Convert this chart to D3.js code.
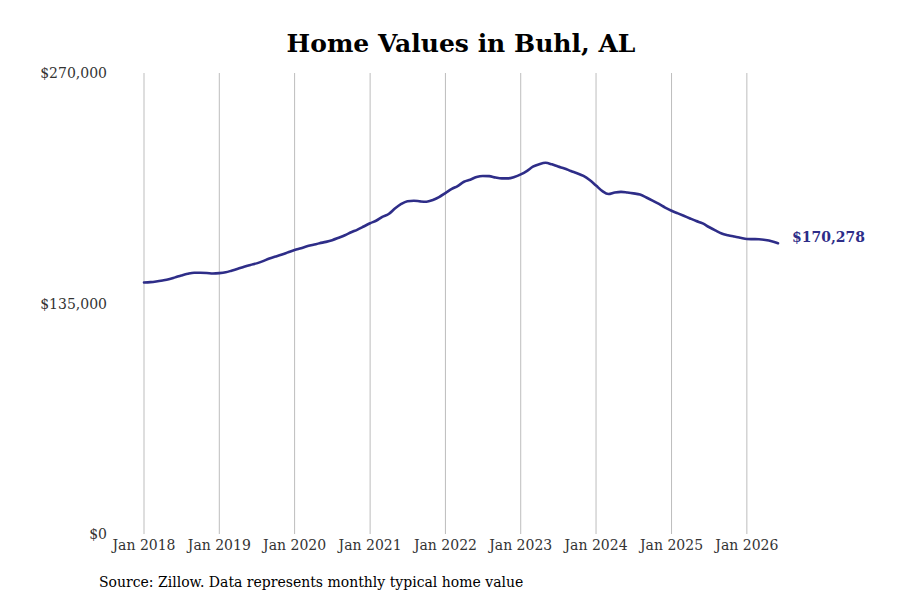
<!DOCTYPE html>
<html>
<head>
<meta charset="utf-8">
<script src="https://cdn.jsdelivr.net/npm/d3@7"></script>
<style>
  body { margin: 0; background: #fff; }
  svg { font-family: "DejaVu Serif", serif; }
</style>
</head>
<body>
<svg id="chart" width="900" height="600"></svg>
<script>
// monthly typical home value, starting Jan 2018
const startMonth = new Date(2018, 0, 1);
const values2018 = [147300, 147500, 147900, 148500, 149200, 150300, 151400, 152400, 153000, 153000, 152900, 152600];
const values2019 = [152800, 153300, 154200, 155300, 156500, 157600, 158500, 159800, 161400, 162500, 163700, 165000];
const values2020 = [166300, 167400, 168500, 169400, 170300, 171100, 172100, 173500, 175000, 176700, 178300, 180100];
const values2021 = [182000, 183600, 185700, 187400, 190600, 193300, 194900, 195200, 194800, 194600, 195600, 197300];
const values2022 = [199700, 202100, 203800, 206300, 207500, 209100, 209700, 209600, 208800, 208300, 208300, 209100];
const values2023 = [210600, 212700, 215100, 216600, 217400, 216500, 215200, 214100, 212600, 211300, 209700, 207300];
const values2024 = [204100, 200800, 199100, 200000, 200400, 200000, 199500, 198800, 197100, 195300, 193300, 191200];
const values2025 = [189300, 187800, 186400, 184800, 183300, 181900, 179800, 177800, 176000, 175000, 174200, 173500];
const values2026 = [172800, 172700, 172600, 172200, 171500, 170278];

const yTicks = [0, 135000, 270000];
const xTickYears = [2018, 2019, 2020, 2021, 2022, 2023, 2024, 2025, 2026];

const values = [].concat(values2018, values2019, values2020, values2021, values2022,
                         values2023, values2024, values2025, values2026);
const data = values.map((v, i) => ({
  date: new Date(startMonth.getFullYear(), startMonth.getMonth() + i, 1),
  value: v
}));

const svg = d3.select('#chart');
const margin = {top: 73, right: 122, bottom: 66, left: 144};
const width = 900, height = 600;

const x = d3.scaleTime()
  .domain(d3.extent(data, d => d.date))
  .range([margin.left, width - margin.right]);
const y = d3.scaleLinear()
  .domain([0, 270000])
  .range([height - margin.bottom, margin.top]);

// title
svg.append('text')
  .attr('x', 461)
  .attr('y', 52)
  .attr('text-anchor', 'middle')
  .style('font-size', '25px')
  .style('font-weight', 'bold')
  .style('fill', '#000')
  .text('Home Values in Buhl, AL');

// vertical grid + x labels
const xTicks = xTickYears.map(yr => new Date(yr, 0, 1));
svg.append('g')
  .selectAll('line')
  .data(xTicks)
  .enter().append('line')
  .attr('x1', d => x(d)).attr('x2', d => x(d))
  .attr('y1', y(270000)).attr('y2', y(0))
  .style('stroke', '#bdbdbd')
  .style('stroke-width', 1);

svg.append('g')
  .selectAll('text')
  .data(xTicks)
  .enter().append('text')
  .attr('x', d => x(d))
  .attr('y', y(0) + 16)
  .attr('text-anchor', 'middle')
  .style('font-size', '14px')
  .style('fill', '#333')
  .text(d => d3.timeFormat('%b %Y')(d));

// y labels
svg.append('g')
  .selectAll('text')
  .data(yTicks)
  .enter().append('text')
  .attr('x', 107)
  .attr('y', d => y(d) + 5)
  .attr('text-anchor', 'end')
  .style('font-size', '14px')
  .style('fill', '#333')
  .text(d => d3.format('$,')(d));

// line
const line = d3.line()
  .x(d => x(d.date))
  .y(d => y(d.value))
  .curve(d3.curveMonotoneX);

svg.append('path')
  .datum(data)
  .attr('d', line)
  .style('fill', 'none')
  .style('stroke', '#2e2d88')
  .style('stroke-width', 2.6)
  .style('stroke-linecap', 'round');

// end label
const last = data[data.length - 1];
svg.append('text')
  .attr('x', x(last.date) + 14)
  .attr('y', y(last.value) - 1)
  .style('font-size', '14px')
  .style('font-weight', 'bold')
  .style('fill', '#2e2d88')
  .text(d3.format('$,')(last.value));

// source
svg.append('text')
  .attr('x', 99)
  .attr('y', 587)
  .style('font-size', '14px')
  .style('fill', '#000')
  .text('Source: Zillow. Data represents monthly typical home value');
</script>
</body>
</html>
